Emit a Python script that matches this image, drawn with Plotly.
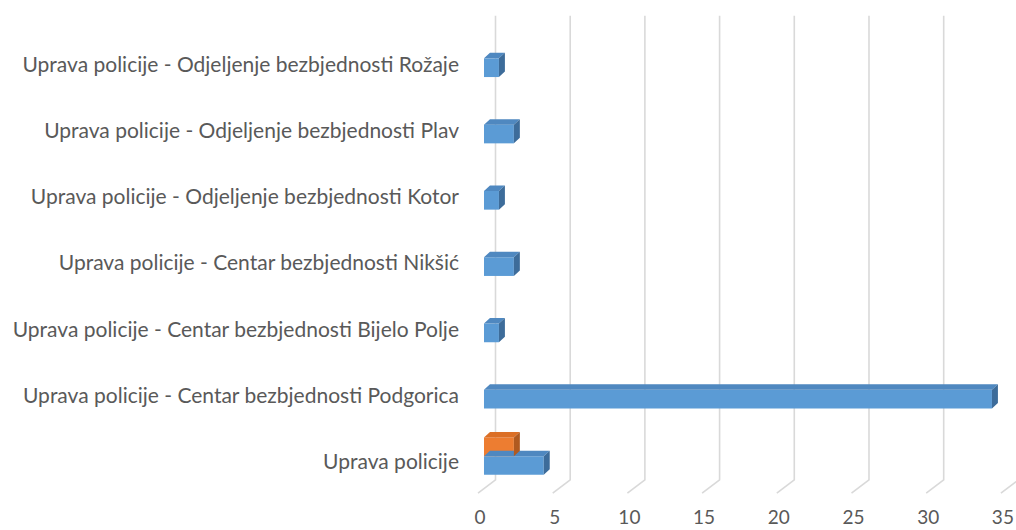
import plotly.graph_objects as go

# ---- data (bottom to top) ----
categories = [
    "Uprava policije",
    "Uprava policije - Centar bezbjednosti Podgorica",
    "Uprava policije - Centar bezbjednosti Bijelo Polje",
    "Uprava policije - Centar bezbjednosti Nikšić",
    "Uprava policije - Odjeljenje bezbjednosti Kotor",
    "Uprava policije - Odjeljenje bezbjednosti Plav",
    "Uprava policije - Odjeljenje bezbjednosti Rožaje",
]
series_blue = [4, 34, 1, 2, 1, 2, 1]
series_orange = [2, None, None, None, None, None, None]
x_ticks = [0, 5, 10, 15, 20, 25, 30, 35]

# ---- styling constants ----
FONT = "Lato"
TXT = "#595959"
GRID = "#D9D9D9"
BAR_W = 0.282          # bar thickness (category units)
OFF_BLUE = -0.194
OFF_ORANGE = OFF_BLUE + BAR_W
DX = 0.40              # 3D depth in x (value units)
DY = 0.083             # 3D depth in y (category units)
BACK_SHIFT = 0.77      # back wall offset of gridlines
FRONT_SHIFT = -0.40    # front floor edge offset
GRID_TOP = 6.73
GRID_BACK_BOTTOM = -0.27
GRID_FRONT_BOTTOM = -0.47

pos = list(range(len(categories)))

fig = go.Figure()

# 3D-style gridlines (back wall + floor diagonal), drawn below the bars
for t in x_ticks:
    path = (f"M {t + BACK_SHIFT},{GRID_TOP} L {t + BACK_SHIFT},{GRID_BACK_BOTTOM} "
            f"L {t + FRONT_SHIFT},{GRID_FRONT_BOTTOM}")
    fig.add_shape(type="path", path=path, xref="x", yref="y", layer="below",
                  line=dict(color=GRID, width=1.6))


def add_series(vals, offset, front, top, side):
    ys = [p for p, v in zip(pos, vals) if v is not None]
    xs = [v for v in vals if v is not None]
    fig.add_trace(go.Bar(orientation="h", x=xs, y=ys, width=BAR_W, offset=offset,
                         marker=dict(color=front, line=dict(width=0)),
                         showlegend=False))
    tx, ty, sx, sy = [], [], [], []
    for p, v in zip(ys, xs):
        b = p + offset
        tp = b + BAR_W
        tx += [0, v, v + DX, DX, 0, None]
        ty += [tp, tp, tp + DY, tp + DY, tp, None]
        sx += [v, v, v + DX, v + DX, v, None]
        sy += [b, tp, tp + DY, b + DY, b, None]
    fig.add_trace(go.Scatter(x=tx, y=ty, mode="lines", fill="toself", fillcolor=top,
                             line=dict(width=0, color=top), hoverinfo="skip", showlegend=False))
    fig.add_trace(go.Scatter(x=sx, y=sy, mode="lines", fill="toself", fillcolor=side,
                             line=dict(width=0, color=side), hoverinfo="skip", showlegend=False))


add_series(series_blue, OFF_BLUE, "#5B9BD5", "#4F88C0", "#3D6C9A")
add_series(series_orange, OFF_ORANGE, "#ED7D31", "#DB6F26", "#B05A20")

fig.update_layout(
    width=1016, height=530,
    margin=dict(l=476, r=0, t=14, b=35, autoexpand=False),
    paper_bgcolor="white", plot_bgcolor="white",
    showlegend=False,
    barmode="overlay",
    font=dict(family=FONT, color=TXT, size=19),
)
fig.update_xaxes(range=[-0.535, 35.61], tickvals=x_ticks, ticktext=[str(t) for t in x_ticks],
                 showgrid=False, zeroline=False, showline=False, ticks="", automargin=False,
                 tickfont=dict(family=FONT, color=TXT, size=19),
                 ticklabeloverflow="allow",
                 ticklabelshift=-4, ticklabelstandoff=9)
fig.update_yaxes(range=[-0.498, 6.757], tickvals=pos, ticktext=categories,
                 showgrid=False, zeroline=False, showline=False, ticks="", automargin=False,
                 tickfont=dict(family=FONT, color=TXT, size=21),
                 ticklabelstandoff=16)

# remove the default page margin so the 1016x530 figure fills the window exactly
fig.write_html(
    "out.html",
    config={"displayModeBar": False},
    post_script="document.body.style.margin='0';document.body.style.overflow='hidden';",
)
